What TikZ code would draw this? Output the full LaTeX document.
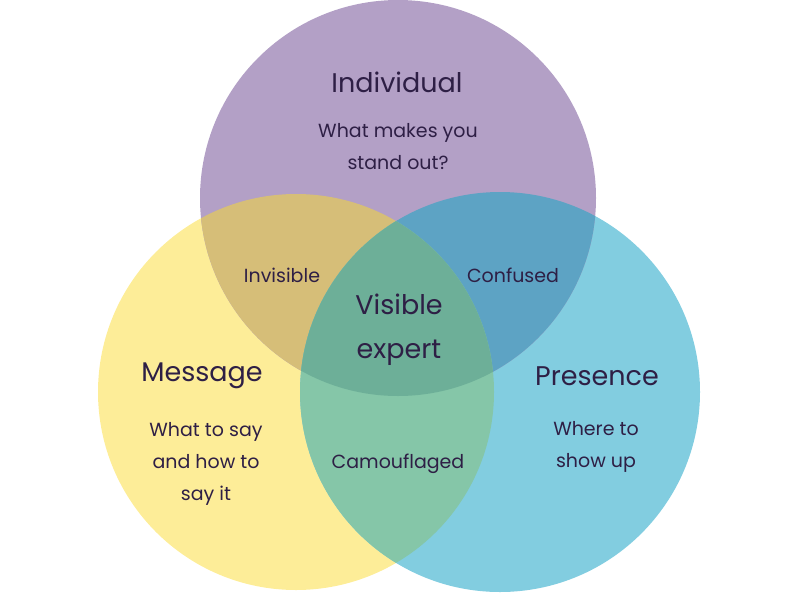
\documentclass[tikz,border=0pt]{standalone}
\usepackage{fontspec}
\setmainfont{Poppins}
\usetikzlibrary{positioning}
\definecolor{indiv}{HTML}{B3A0C6}
\definecolor{mess}{HTML}{FDED98}
\definecolor{pres}{HTML}{82CDE0}
\definecolor{im}{HTML}{D6BE78}
\definecolor{ip}{HTML}{5DA3C4}
\definecolor{mp}{HTML}{85C6A8}
\definecolor{imp}{HTML}{6DAF98}
\definecolor{ink}{HTML}{2E1F45}
\tikzset{
  title/.style={text=ink,font=\fontsize{27}{44}\selectfont},
  body/.style={text=ink,font=\fontsize{19}{32}\selectfont,align=center},
}
\begin{document}
\begin{tikzpicture}[x=1pt,y=-1pt]
  \useasboundingbox (0,0) rectangle (800,600);
  \def\ci{(398,198) circle (198)}
  \def\cm{(296,392) circle (198)}
  \def\cp{(500,392) circle (200)}
  \fill[mess] \cm;
  \fill[pres] \cp;
  \fill[indiv] \ci;
  \begin{scope}\clip \ci; \fill[im] \cm; \end{scope}
  \begin{scope}\clip \ci; \fill[ip] \cp; \end{scope}
  \begin{scope}\clip \cm; \fill[mp] \cp; \end{scope}
  \begin{scope}\clip \ci; \clip \cm; \fill[imp] \cp; \end{scope}
  \node[title] (individual) at (397,82) {Individual};
  \node[body] (q1) at (398,147) {What makes you\\stand out?};
  \node[title] (message) at (202,376) {Message};
  \node[body] (q2) at (206,464) {What to say\\and how to\\say it};
  \node[title] (presence) at (597,376) {Presence};
  \node[body] (q3) at (596,447) {Where to\\show up};
  \node[body] (invisible) at (282,275) {Invisible};
  \node[body] (confused) at (513,275) {Confused};
  \node[body] (camo) at (398,464) {Camouflaged};
  \node[title,align=center] (visible) at (399,330) {Visible\\expert};
\end{tikzpicture}
\end{document}
